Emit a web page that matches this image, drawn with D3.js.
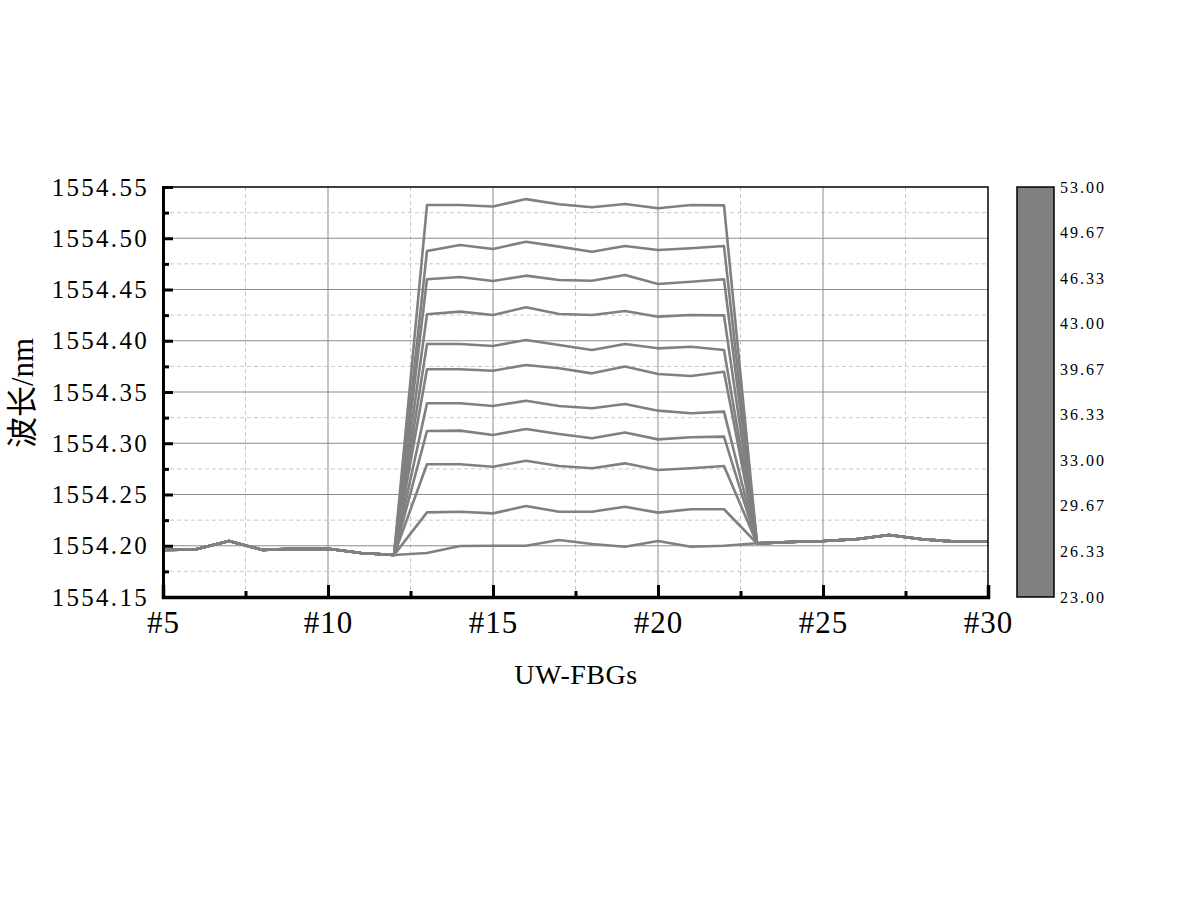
<!DOCTYPE html>
<html>
<head>
<meta charset="utf-8">
<script src="https://cdn.jsdelivr.net/npm/d3@7"></script>
<style>
  body { margin: 0; background: #fff; }
  svg text { font-family: "Liberation Serif", "Noto Sans CJK SC", serif; fill: #000; }
</style>
</head>
<body>
<svg id="graph" width="1200" height="918"></svg>
<script>
//FBG indices on the x axis
let fbgLeft = [5, 6, 7, 8, 9, 10, 11, 12];
let fbgHeated = [13, 14, 15, 16, 17, 18, 19, 20, 21, 22];
let fbgRight = [23, 24, 25, 26, 27, 28, 29, 30];
//wavelength of the unheated gratings (shared by every curve)
let baseLeft = [1554.196, 1554.1965, 1554.2046, 1554.196, 1554.197, 1554.197, 1554.193, 1554.191];
let baseRight = [1554.2024, 1554.2037, 1554.2046, 1554.2063, 1554.2105, 1554.2063, 1554.204, 1554.2043];
//temperatures of the curves (colorbar)
let temps = [23, 26, 29, 32, 35, 38, 41, 44, 47, 50, 53];
//wavelength of the heated gratings #13..#22, one array per temperature
let heated23 = [1554.193, 1554.1998, 1554.200, 1554.200, 1554.2056, 1554.2017, 1554.199, 1554.2046, 1554.199, 1554.200];
let heated26 = [1554.2326, 1554.2332, 1554.2316, 1554.2388, 1554.2332, 1554.2332, 1554.2381, 1554.2323, 1554.2356, 1554.2356];
let heated29 = [1554.2795, 1554.2795, 1554.2771, 1554.2830, 1554.2778, 1554.2756, 1554.2804, 1554.2739, 1554.2756, 1554.2778];
let heated32 = [1554.3120, 1554.3123, 1554.3080, 1554.3139, 1554.3090, 1554.3048, 1554.3104, 1554.3038, 1554.3058, 1554.3065];
let heated35 = [1554.3390, 1554.3390, 1554.3363, 1554.3415, 1554.3363, 1554.3341, 1554.3383, 1554.3318, 1554.3292, 1554.3309];
let heated38 = [1554.3722, 1554.3722, 1554.3708, 1554.3763, 1554.3731, 1554.3682, 1554.3749, 1554.3676, 1554.3656, 1554.3698];
let heated41 = [1554.3968, 1554.3968, 1554.3949, 1554.4007, 1554.3959, 1554.3910, 1554.3968, 1554.3926, 1554.3942, 1554.3910];
let heated44 = [1554.4258, 1554.4284, 1554.4251, 1554.4326, 1554.4261, 1554.4251, 1554.4290, 1554.4235, 1554.4251, 1554.4248];
let heated47 = [1554.4600, 1554.4622, 1554.4583, 1554.4635, 1554.4593, 1554.4586, 1554.4641, 1554.4554, 1554.4576, 1554.4600];
let heated50 = [1554.4876, 1554.4934, 1554.4895, 1554.4966, 1554.4918, 1554.4869, 1554.4924, 1554.4885, 1554.4902, 1554.4924];
let heated53 = [1554.5324, 1554.5324, 1554.5310, 1554.5382, 1554.5331, 1554.5302, 1554.5334, 1554.5292, 1554.5324, 1554.5321];
let heatedAll = [heated23, heated26, heated29, heated32, heated35, heated38, heated41, heated44, heated47, heated50, heated53];
//tick labels
let xTicks = [5, 10, 15, 20, 25, 30];
let yTicks = [1554.15, 1554.20, 1554.25, 1554.30, 1554.35, 1554.40, 1554.45, 1554.50, 1554.55];
let cbarTicks = ["53.00", "49.67", "46.33", "43.00", "39.67", "36.33", "33.00", "29.67", "26.33", "23.00"];

let margin = { top: 187, left: 163 };
let width = 825, height = 410;
let grey = "#808080";

let svg = d3.select("#graph");
let x = d3.scaleLinear().domain([5, 30]).range([0, width]);
let y = d3.scaleLinear().domain([1554.15, 1554.55]).range([height, 0]);
let g = svg.append("g").attr("transform", "translate(" + margin.left + "," + margin.top + ")");

//minor grid (dashed)
let xMinor = [7.5, 12.5, 17.5, 22.5, 27.5];
let yMinor = d3.range(8).map(function (i) { return 1554.175 + i * 0.05; });
g.selectAll(".vminor").data(xMinor).enter().append("line")
  .attr("x1", d => x(d)).attr("x2", d => x(d)).attr("y1", 0).attr("y2", height)
  .attr("stroke", "#c8c8c8").attr("stroke-dasharray", "4,3");
g.selectAll(".hminor").data(yMinor).enter().append("line")
  .attr("y1", d => y(d)).attr("y2", d => y(d)).attr("x1", 0).attr("x2", width)
  .attr("stroke", "#c8c8c8").attr("stroke-dasharray", "4,3");
//major grid (solid)
g.selectAll(".vmajor").data(xTicks.slice(1, -1)).enter().append("line")
  .attr("x1", d => x(d)).attr("x2", d => x(d)).attr("y1", 0).attr("y2", height)
  .attr("stroke", "#8c8c8c").attr("stroke-width", 1);
g.selectAll(".hmajor").data(yTicks.slice(1, -1)).enter().append("line")
  .attr("y1", d => y(d)).attr("y2", d => y(d)).attr("x1", 0).attr("x2", width)
  .attr("stroke", "#8c8c8c").attr("stroke-width", 1);

//build each curve from the shared baseline and its heated section
let fbgAll = fbgLeft.concat(fbgHeated, fbgRight);
let series = heatedAll.map(function (h, i) {
  let vals = baseLeft.concat(h, baseRight);
  return { temp: temps[i], points: fbgAll.map(function (n, j) { return [n, vals[j]]; }) };
});
let line = d3.line().x(d => x(d[0])).y(d => y(d[1]));
g.selectAll(".curve").data(series).enter().append("path")
  .attr("class", "curve")
  .attr("d", d => line(d.points))
  .attr("fill", "none").attr("stroke", grey).attr("stroke-width", 2.6)
  .attr("stroke-linejoin", "round");

//frame
g.append("rect").attr("width", width).attr("height", height)
  .attr("fill", "none").attr("stroke", "#000").attr("stroke-width", 1.5);

//y axis with inward ticks
let yAxis = g.append("g").call(d3.axisLeft(y).tickValues(yTicks).tickSize(-10).tickPadding(14)
  .tickFormat(d3.format(".2f")));
yAxis.select(".domain").attr("stroke-width", 3);
yAxis.selectAll(".tick line").attr("stroke-width", 3);
yAxis.selectAll("text").attr("font-size", 25).attr("letter-spacing", 2.3);
g.append("g").call(d3.axisLeft(y).tickValues(yMinor).tickSize(-6).tickFormat(""))
  .call(a => a.select(".domain").remove())
  .selectAll(".tick line").attr("stroke-width", 3);

//x axis with inward ticks
let xAxis = g.append("g").attr("transform", "translate(0," + height + ")")
  .call(d3.axisBottom(x).tickValues(xTicks).tickSize(-12).tickPadding(10)
    .tickFormat(d => "#" + d));
xAxis.select(".domain").attr("stroke-width", 3.5);
xAxis.selectAll(".tick line").attr("stroke-width", 3);
xAxis.selectAll("text").attr("font-size", 31).attr("letter-spacing", 1).attr("dy", "0.85em");
g.append("g").attr("transform", "translate(0," + height + ")")
  .call(d3.axisBottom(x).tickValues(xMinor).tickSize(-6).tickFormat(""))
  .call(a => a.select(".domain").remove())
  .selectAll(".tick line").attr("stroke-width", 3);

//axis titles
svg.append("text").attr("x", 576).attr("y", 684).attr("text-anchor", "middle")
  .attr("font-size", 28).attr("letter-spacing", 0.5).text("UW-FBGs");
svg.append("text").attr("transform", "translate(33,393) rotate(-90)").attr("text-anchor", "middle")
  .attr("font-size", 31).text("波长/nm");

//colorbar
let cb = svg.append("g").attr("transform", "translate(1017," + margin.top + ")");
let cScale = d3.scaleLinear().domain([23, 53]).range([height, 0]);
cb.append("rect").attr("width", 37).attr("height", height)
  .attr("fill", grey).attr("stroke", "#000").attr("stroke-width", 1.5);
cb.selectAll(".cblabel").data(cbarTicks).enter().append("text")
  .attr("x", 43).attr("y", d => cScale(+d)).attr("dy", "0.35em")
  .attr("font-size", 16).attr("letter-spacing", 2).text(d => d);
</script>
</body>
</html>
